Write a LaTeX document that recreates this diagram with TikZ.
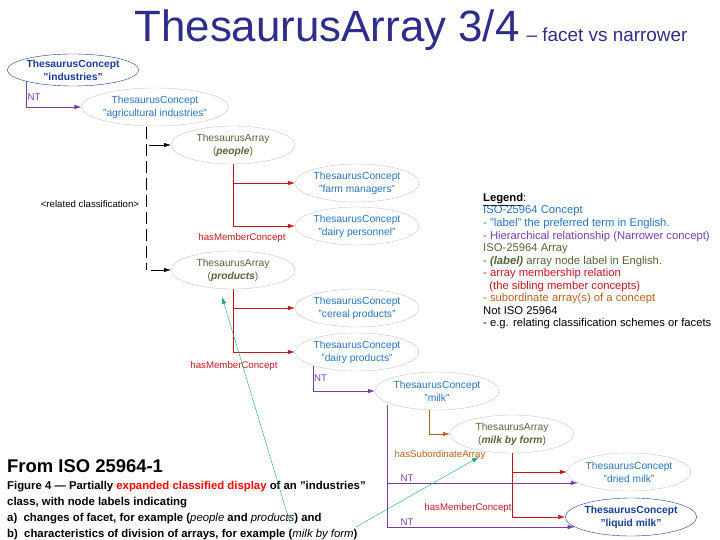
\documentclass[tikz,border=0pt]{standalone}
\usepackage{fontspec}
\setmainfont{Liberation Sans}
\usetikzlibrary{arrows.meta,shapes.geometric,positioning}
\newcommand{\dq}{\char34\relax}
\definecolor{conceptblue}{RGB}{40,115,190}
\definecolor{navyblue}{RGB}{20,60,150}
\definecolor{arraygreen}{RGB}{85,100,55}
\definecolor{ntpurple}{RGB}{120,60,170}
\definecolor{memberred}{RGB}{200,20,30}
\definecolor{subbrown}{RGB}{185,95,30}
\definecolor{titleblue}{RGB}{45,45,140}
\definecolor{linkgreen}{RGB}{20,170,120}
\tikzset{
	>={Latex[length=7bp,width=4.5bp]},
	concept/.style = {
			ellipse,
			draw            = gray!45,
			text            = conceptblue,
			minimum width   = 124bp,
			minimum height  = 38bp,
			inner sep       = 0pt,
			align           = center,
			font            = \fontsize{10.3}{13}\selectfont,
		},
	dark concept/.style = {
			concept,
			draw            = navyblue,
			text            = navyblue,
			font            = \fontsize{10.3}{13}\selectfont\bfseries,
		},
	array node/.style = {
			concept,
			text            = arraygreen,
		},
	relabel/.style = {font=\fontsize{9.7}{11}\selectfont, inner sep=1pt},
}

\begin{document}
\begin{tikzpicture}[x=1bp,y=-1bp]
		\useasboundingbox (0,0) rectangle (720,540);

		% title
		\node (title) at (327,30) {\fontsize{44}{48}\selectfont\color{titleblue}ThesaurusArray 3/4};
		\node[anchor=base west] (subtitle) at ([xshift=0bp]title.base east) {\fontsize{19}{22}\selectfont\color{titleblue}-- facet vs narrower};

		% concepts and arrays
		\node[dark concept, minimum width=128bp, minimum height=32bp] (industries) at (73,70) {ThesaurusConcept\\\dq industries\dq};
		\node[concept, minimum width=126bp] (agri) at (155,107) {ThesaurusConcept\\\dq agricultural industries\dq};
		\node[array node] (people) at (233,145) {ThesaurusArray\\(\textbf{\textit{people}})};
		\node[concept] (farm) at (357,183) {ThesaurusConcept\\\dq farm managers\dq};
		\node[concept] (dairy personnel) at (357,226) {ThesaurusConcept\\\dq dairy personnel\dq};
		\node[array node] (products) at (233,270) {ThesaurusArray\\(\textbf{\textit{products}})};
		\node[concept] (cereal) at (357,308) {ThesaurusConcept\\\dq cereal products\dq};
		\node[concept] (dairy products) at (357,352) {ThesaurusConcept\\\dq dairy products\dq};
		\node[concept] (milk) at (437,391) {ThesaurusConcept\\\dq milk\dq};
		\node[array node] (milk by form) at (512,434) {ThesaurusArray\\(\textbf{\textit{milk by form}})};
		\node[concept] (dried) at (629,472) {ThesaurusConcept\\\dq dried milk\dq};
		\node[dark concept] (liquid) at (631,517) {ThesaurusConcept\\\dq liquid milk\dq};

		% narrower
		\draw[ntpurple, ->] (industries.south west) |- (agri.west)
		node[pos=0.3, right, relabel] {NT};
		\draw[ntpurple, ->] (dairy products.south west) |- (milk.west)
		node[pos=0.25, right, relabel] {NT};
		\draw[ntpurple, ->] ([xshift=-6bp]milk.south west) |- (dried.192);
		\draw[ntpurple, ->] ([xshift=-6bp]milk.south west) |- (liquid.190);
		\node[ntpurple, relabel] (nt dried) at (407,478) {NT};
		\node[ntpurple, relabel] (nt liquid) at (407,522) {NT};

		% related classification
		\coordinate (rc top) at (146,127);
		\coordinate (rc bot) at (146,270);
		\draw[dashed, dash pattern=on 12bp off 5bp] (rc top) -- (rc bot);
		\draw[->] (rc top |- people.west) ++(3,0) -- (people.west);
		\draw[->] (rc bot) ++(5,0) -- (products.west);
		\node[relabel] (related) at (90,204) {<related classification>};

		% membership
		\foreach \arr/\first/\second in {people/farm/dairy personnel, products/cereal/dairy products, milk by form/dried/liquid} {
				\draw[memberred, ->] (\arr.south) |- (\first.west);
				\draw[memberred, ->] (\arr.south) |- (\second.west);
			}
		\node[memberred, relabel] (member people) at (242,238) {hasMemberConcept};
		\node[memberred, relabel] (member products) at (234,366) {hasMemberConcept};
		\node[memberred, relabel] (member milk) at (468,508) {hasMemberConcept};

		% subordinate array
		\draw[subbrown, ->] ([xshift=-8bp]milk.south) |- (milk by form.west);
		\node[subbrown, relabel] (subordinate) at (440,455) {hasSubordinateArray};

		% legend
		\node[anchor=north west, align=left, inner sep=0pt, font=\fontsize{11.3}{12.6}\selectfont] (legend) at (483,193) {%
			\underline{\textbf{Legend}}:\\
			\color{conceptblue}ISO-25964 Concept\\
			\color{conceptblue}- \dq label\dq{} the preferred term in English.\\
			\color{ntpurple}- Hierarchical relationship (Narrower concept)\\
			\color{arraygreen}ISO-25964 Array\\
			\color{arraygreen}- \textbf{\textit{(label)}} array node label in English.\\
			\color{memberred}- array membership relation\\
			\color{memberred}\ \ (the sibling member concepts)\\
			\color{subbrown}- subordinate array(s) of a concept\\
			Not ISO 25964\\
			- e.g. relating classification schemes or facets};

		% caption
		\node[anchor=north west, align=left, inner sep=0pt, font=\fontsize{18.5}{20}\selectfont\bfseries] (from iso) at (7,459) {From ISO 25964-1};
		\node[anchor=north west, align=left, inner sep=0pt, font=\fontsize{11.4}{16}\selectfont\bfseries] (caption) at (7,481) {%
			Figure 4 --- Partially {\color{red}expanded classified display} of an \dq industries\dq\\
			class, with node labels indicating\\
			a)\ \ changes of facet, for example (\textmd{\textit{people}} and \textmd{\textit{products}}) and\\
			b)\ \ characteristics of division of arrays, for example (\textmd{\textit{milk by form}})};
		\coordinate (fig a) at (290,523);
		\coordinate (fig b) at (356,527);
		\coordinate (products foot) at (222,297);
		\coordinate (milk by form foot) at (479,457);
		\draw[linkgreen, ->] (fig a) -- (products foot);
		\draw[linkgreen, ->] (fig b) -- (milk by form foot);
	\end{tikzpicture}
\end{document}
